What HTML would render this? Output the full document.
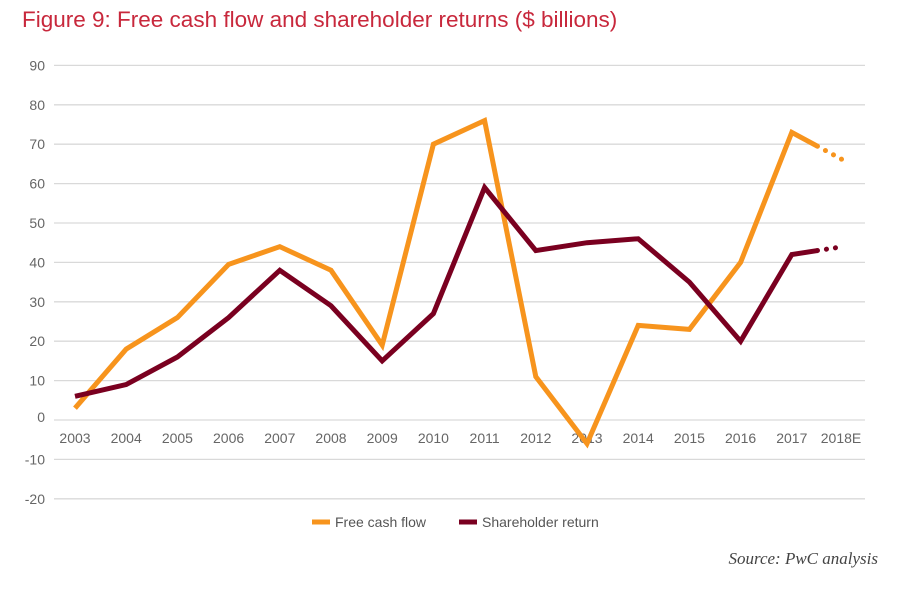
<!DOCTYPE html>
<html><head><meta charset="utf-8"><style>
body{margin:0;background:#fff;font-family:"Liberation Sans",sans-serif;}
svg{display:block}
</style></head><body>
<svg width="900" height="598">
<text x="22" y="27" font-size="22.5" fill="#c8283c">Figure 9: Free cash flow and shareholder returns ($ billions)</text>
<g id="grid"></g><g id="ylabels"></g><g id="xlabels"></g><g id="series"></g>
<g>
<line x1="312" y1="522" x2="330" y2="522" stroke="#f7941d" stroke-width="5"/>
<text x="335" y="527" font-size="14" fill="#555">Free cash flow</text>
<line x1="459" y1="522" x2="477" y2="522" stroke="#7a0020" stroke-width="5"/>
<text x="482" y="527" font-size="14" fill="#555">Shareholder return</text>
</g>
<text x="878" y="564" font-size="17" font-style="italic" text-anchor="end" fill="#444" font-family="Liberation Serif,serif">Source: PwC analysis</text>
</svg>
<script>
const years=["2003","2004","2005","2006","2007","2008","2009","2010","2011","2012","2013","2014","2015","2016","2017","2018E"];
const fcf=[3,18,26,39.5,44,38,19,70,76,11,-6,24,23,40,73,66];
const sr=[6,9,16,26,38,29,15,27,59,43,45,46,35,20,42,44];
const yTicks=[90,80,70,60,50,40,30,20,10,0,-10,-20];
const NS="http://www.w3.org/2000/svg";
const x=i=>75+i*51.2;
const y=v=>420-3.94*v;
function mk(tag,attrs,parent){const e=document.createElementNS(NS,tag);for(const k in attrs)e.setAttribute(k,attrs[k]);document.getElementById(parent).appendChild(e);return e;}
yTicks.forEach(t=>{
 const l=mk("line",{x1:54,x2:865,y1:y(t),y2:y(t),stroke:"#d9d9d9","stroke-width":1.3},"grid");
 
 
 const tx=mk("text",{x:45,y:y(t)+(t===0?2:5),"font-size":14,fill:"#666","text-anchor":"end"},"ylabels");
 tx.textContent=t;
 
 
});
years.forEach((yr,i)=>{
 const tx=mk("text",{x:x(i)+(i===15?-2:0),y:443,"font-size":14,fill:"#666","text-anchor":"middle"},"xlabels");
 tx.textContent=yr;
 
 
});
function series(vals,color,name){
 const n=vals.length;
 let d="";
 for(let i=0;i<n-1;i++)d+=(i?"L":"M")+x(i)+","+y(vals[i]);
 const mx=(x(n-2)+x(n-1))/2, my=(y(vals[n-2])+y(vals[n-1]))/2;
 d+="L"+mx+","+my;
 const p=mk("path",{d:d,fill:"none",stroke:color,"stroke-width":5,"stroke-linejoin":"miter"},"series");
 
 
 const q=mk("path",{d:"M"+mx+","+my+"L"+x(n-1)+","+y(vals[n-1]),fill:"none",stroke:color,"stroke-width":5,"stroke-linecap":"round","stroke-dasharray":"0.1 9"},"series");
 
 
}
series(fcf,"#f7941d","free-cash-flow");
series(sr,"#7a0020","shareholder-return");
</script>
</body></html>
